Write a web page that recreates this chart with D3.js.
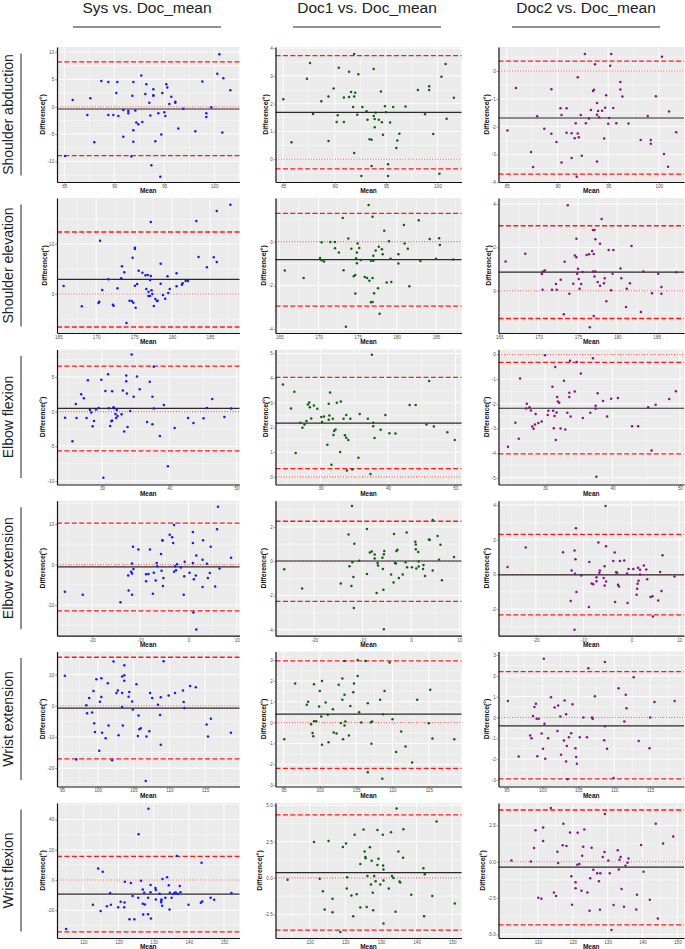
<!DOCTYPE html>
<html><head><meta charset="utf-8">
<script src="https://cdn.jsdelivr.net/npm/d3@7"></script>
<style>body{margin:0;background:#fff}svg{display:block}</style>
</head><body><svg id="chart" width="685" height="949"></svg>
<script>
const columns = ["Sys vs. Doc_mean","Doc1 vs. Doc_mean","Doc2 vs. Doc_mean"];
const rows = ["Shoulder abduction","Shoulder elevation","Elbow flexion","Elbow extension","Wrist extension","Wrist flexion"];

// points: [mean, difference]
const saSys = [[85.07,-9.0],[85.84,1.22],[87.3,-1.52],[87.6,1.52],[88.0,-6.5],[88.7,4.7],[89.4,-1.52],[89.4,4.5],[89.9,-1.52],[90.2,2.5],[90.3,4.5],[90.4,-1.7],[90.9,-5.5],[90.9,-0.6],[91.4,-0.8],[91.4,-1.2],[91.8,2.0],[91.9,-4.3],[91.9,4.5],[91.9,-6.4],[92.1,-0.7],[92.2,-2.9],[92.4,-3.2],[91.7,-9.1],[92.7,5.7],[92.8,-2.8],[93.1,2.3],[93.2,4.1],[93.5,0.7],[93.6,-1.6],[93.7,-10.7],[93.9,3.2],[93.9,2.0],[93.9,2.1],[94.1,-6.3],[94.4,-1.2],[94.6,-12.8],[94.7,-5.1],[94.8,2.5],[95.0,-1.0],[95.1,-1.7],[95.2,4.1],[95.3,3.5],[95.5,0.5],[95.7,1.8],[96.1,0.9],[96.1,0.7],[96.4,-4.0],[96.9,-0.4],[98.1,-4.5],[98.8,4.6],[99.2,-1.2],[99.2,-1.9],[99.7,-0.1],[100.3,6.0],[100.5,9.6],[100.8,-4.7],[100.9,5.2],[101.6,3.0]];
const saDoc1 = [[85.0,2.16],[85.8,0.61],[87.3,2.9],[87.6,3.46],[87.9,1.63],[88.7,2.09],[89.4,2.26],[89.4,0.66],[89.9,2.55],[90.2,1.34],[90.3,1.58],[90.4,3.29],[90.9,2.22],[90.9,1.34],[91.4,3.15],[91.4,2.24],[91.6,2.42],[91.8,1.88],[91.9,3.79],[91.9,2.26],[91.9,0.22],[92.0,2.39],[92.2,1.6],[92.3,3.06],[92.6,-0.6],[92.7,1.88],[93.1,1.73],[93.2,1.42],[93.4,0.72],[93.6,0.7],[93.6,-0.24],[93.8,3.25],[93.8,1.56],[93.9,1.15],[93.9,1.45],[94.0,1.67],[94.3,1.42],[94.5,2.44],[94.6,1.33],[94.7,0.88],[94.9,1.91],[95.0,1.69],[95.2,-0.18],[95.2,-0.6],[95.4,1.32],[95.7,1.88],[96.0,0.4],[96.1,0.67],[96.3,0.92],[96.9,1.9],[98.1,2.49],[98.8,1.62],[99.2,2.63],[99.2,2.49],[99.6,0.91],[100.2,-0.52],[100.4,2.97],[100.8,3.43],[100.9,1.46],[101.6,2.21]];
const saDoc2 = [[85.07,-2.14],[85.9,-0.61],[87.4,-2.91],[87.6,-3.45],[88.0,-1.63],[88.7,-2.08],[89.4,-0.66],[89.4,-2.26],[89.9,-2.55],[90.3,-1.34],[90.4,-1.58],[90.4,-3.29],[90.9,-1.34],[90.9,-2.22],[91.4,-3.13],[91.4,-2.24],[91.7,-2.42],[91.8,-1.88],[91.9,-3.8],[92.0,-2.25],[92.0,-0.23],[92.1,-2.38],[92.3,-1.58],[92.4,-3.05],[92.7,0.61],[92.8,-1.88],[93.1,-1.71],[93.3,-1.4],[93.5,-0.72],[93.6,-0.68],[93.7,0.24],[93.9,-3.25],[93.9,-1.57],[93.9,-1.15],[94.0,-1.44],[94.1,-1.66],[94.4,-1.43],[94.6,-2.43],[94.7,-1.32],[94.8,-0.87],[95.0,-1.9],[95.1,-1.69],[95.2,0.19],[95.3,0.61],[95.5,-1.33],[95.8,-1.88],[96.2,-0.4],[96.2,-0.67],[96.4,-0.92],[97.0,-1.89],[98.2,-2.48],[98.9,-1.62],[99.2,-2.62],[99.2,-2.48],[99.7,-0.91],[100.3,0.51],[100.5,-2.98],[100.9,-3.44],[101.0,-1.46],[101.7,-2.2]];

const seSys = [[165.7,1.6],[168.1,-2.47],[170.3,-1.8],[170.4,-1.53],[170.5,10.67],[170.8,0.8],[171.6,2.93],[172.2,-2.13],[172.3,-2.33],[172.8,1.13],[173.3,3.13],[173.4,5.53],[173.7,4.33],[174.0,-5.8],[174.4,-1.33],[174.7,-1.4],[174.8,7.27],[174.9,-1.73],[175.1,9.27],[175.1,9.0],[175.1,1.67],[175.2,-2.73],[175.4,2.0],[175.6,4.67],[176.1,4.27],[176.5,3.73],[176.6,1.0],[176.8,3.8],[176.9,0.47],[176.9,-0.4],[177.1,-0.4],[177.1,2.8],[177.2,14.4],[177.2,3.6],[177.3,0.73],[177.4,0.0],[177.6,-2.4],[177.8,-1.0],[178.0,-1.4],[178.1,-1.33],[178.5,2.07],[178.5,6.07],[178.8,-0.2],[179.1,-0.93],[179.4,3.53],[179.5,0.2],[179.7,1.0],[180.6,1.53],[180.6,4.13],[181.3,1.87],[181.4,2.13],[181.8,2.6],[182.1,2.6],[183.2,14.6],[183.5,7.4],[184.6,5.33],[185.5,7.33],[185.9,16.6],[185.9,6.4],[187.7,17.87]];
const seDoc1 = [[165.7,-1.32],[168.1,-1.66],[170.2,-0.75],[170.4,-0.03],[170.4,-0.85],[170.7,-0.91],[171.5,-0.02],[172.1,-0.3],[172.1,-0.02],[172.6,-0.5],[173.1,1.08],[173.2,-1.31],[173.5,-3.89],[173.8,0.14],[174.2,-0.32],[174.5,-1.58],[174.7,-1.52],[174.7,-2.37],[174.8,-0.76],[174.9,-0.5],[174.9,-0.99],[175.0,-0.09],[175.2,-0.29],[175.4,-0.84],[175.9,-1.61],[176.2,-1.66],[176.4,1.67],[176.5,-1.79],[176.7,-0.87],[176.7,-2.77],[176.9,1.14],[176.9,-2.75],[176.9,-1.66],[177.0,-0.65],[177.0,-0.87],[177.1,-2.36],[177.3,-0.4],[177.6,-2.13],[177.7,-0.23],[177.8,-3.29],[178.1,-0.35],[178.2,-0.58],[178.4,0.49],[178.7,-1.86],[179.0,0.02],[179.2,-0.78],[179.3,-1.84],[180.2,-0.58],[180.2,-1.0],[180.9,0.76],[181.0,-0.09],[181.4,-0.33],[181.6,-2.04],[182.8,0.97],[183.0,-0.88],[184.2,0.12],[185.0,-0.78],[185.4,0.15],[185.5,-0.15],[187.2,-0.82]];
const seDoc2 = [[165.8,1.35],[168.3,1.71],[170.4,0.77],[170.5,0.86],[170.5,0.05],[170.7,0.91],[170.8,0.94],[171.7,0.05],[172.2,0.31],[172.3,0.05],[172.8,0.51],[173.2,-1.08],[173.3,1.34],[173.9,-0.14],[173.7,3.95],[174.4,0.32],[174.6,1.63],[174.8,2.4],[174.8,1.55],[174.9,0.78],[175.0,1.02],[175.1,0.54],[175.2,0.09],[175.4,0.31],[175.6,0.86],[176.1,1.65],[176.4,1.68],[176.5,-1.69],[176.8,1.83],[176.9,0.89],[176.9,2.8],[177.0,-1.17],[177.0,1.69],[177.1,2.8],[177.1,0.66],[177.2,0.89],[177.2,2.38],[177.5,0.4],[177.8,2.17],[177.8,0.23],[178.0,3.31],[178.3,0.35],[178.4,0.58],[178.6,-0.49],[178.9,1.88],[179.2,0.02],[179.4,0.78],[179.5,1.88],[180.4,1.03],[180.5,0.58],[181.1,-0.75],[181.2,0.09],[181.6,0.35],[181.8,2.06],[183.0,-0.98],[183.3,0.89],[184.4,-0.12],[185.2,0.78],[185.6,0.17],[185.6,-0.14],[187.5,0.85]];

const efSys = [[24.5,-0.87],[25.6,-4.28],[26.1,1.1],[26.2,-0.91],[26.9,2.5],[27.3,1.92],[27.7,-0.91],[27.9,4.52],[28.2,0.24],[28.4,-0.14],[28.6,-2.12],[28.8,-1.35],[29.1,0.29],[29.5,0.53],[29.9,4.57],[30.2,-9.52],[30.5,2.98],[30.9,5.38],[31.0,0.48],[31.2,-2.07],[31.4,-1.39],[31.5,2.93],[31.5,-1.3],[31.7,0.63],[31.8,0.48],[32.0,-0.34],[32.1,-0.91],[32.2,0.24],[32.3,-0.63],[32.9,-0.38],[33.1,3.03],[33.3,-2.88],[33.6,4.38],[33.6,5.19],[33.7,2.6],[33.8,-2.21],[34.2,0.1],[34.4,8.22],[34.7,2.12],[35.2,5.05],[35.6,3.22],[36.7,-1.49],[37.1,4.28],[37.5,2.12],[37.5,-1.83],[37.7,6.44],[37.7,0.43],[38.6,-3.51],[39.2,0.96],[39.8,-7.88],[40.8,-2.36],[42.8,-0.91],[43.6,-1.63],[45.1,-0.96],[45.6,0.53],[46.4,1.83],[48.2,-0.77],[49.2,0.43]];
const efDoc1 = [[24.4,3.74],[25.6,2.77],[26.1,3.45],[26.3,0.97],[27.0,2.19],[27.3,1.99],[27.6,2.12],[27.9,2.26],[28.1,2.93],[28.3,3.01],[28.4,2.82],[28.6,2.36],[29.0,2.89],[29.5,2.76],[30.1,2.42],[30.2,2.22],[30.5,2.45],[31.0,1.3],[31.2,2.31],[31.2,2.96],[31.3,2.49],[31.4,3.42],[31.6,0.49],[31.8,2.35],[31.9,1.7],[32.0,1.86],[32.2,1.92],[32.4,3.0],[32.9,1.01],[33.0,3.05],[33.4,2.35],[33.6,1.69],[33.8,2.51],[33.8,1.58],[33.9,0.26],[34.1,1.49],[34.4,2.35],[34.7,0.3],[35.6,0.77],[35.8,2.55],[37.0,2.35],[37.4,0.12],[37.6,4.95],[37.8,2.05],[37.8,2.19],[38.0,1.57],[38.9,1.91],[39.6,2.51],[40.2,1.77],[41.1,1.76],[43.2,2.91],[44.1,2.91],[45.7,2.12],[46.1,3.88],[46.8,2.04],[48.8,1.81],[49.9,1.49]];
const efDoc2 = [[24.5,-3.74],[25.6,-2.77],[26.1,-3.42],[26.3,-0.97],[27.2,-2.19],[27.3,-2.0],[27.7,-2.14],[27.9,-2.27],[28.1,-2.92],[28.3,-3.01],[28.5,-2.84],[28.6,-2.41],[29.0,-2.78],[29.5,-2.72],[30.0,-0.03],[30.4,-2.45],[30.5,-2.28],[31.1,-1.31],[31.2,-2.28],[31.3,-2.99],[31.4,-2.49],[31.5,-0.51],[31.6,-3.47],[31.7,-2.35],[31.8,-1.72],[31.9,-1.91],[32.1,-1.96],[32.3,-3.0],[32.8,-1.07],[33.0,-3.04],[33.3,-2.36],[33.6,-1.72],[33.6,-1.55],[33.7,-0.26],[33.8,-2.51],[34.4,-1.5],[34.7,-0.31],[35.3,-0.77],[35.6,-2.58],[36.7,-2.36],[37.1,-0.15],[37.5,-2.08],[37.5,-2.2],[37.6,-4.96],[37.8,-1.57],[38.6,-1.89],[39.2,-2.51],[39.8,-1.8],[40.8,-1.77],[42.9,-2.91],[43.8,-2.91],[45.3,-2.14],[45.8,-3.89],[46.4,-2.04],[48.4,-1.81],[49.4,-1.49]];

const eeSys = [[-25.6,-6.7],[-21.9,-7.4],[-14.1,-9.3],[-12.4,-6.4],[-12.5,-2.7],[-11.9,-1.8],[-11.7,-7.4],[-11.7,-2.2],[-11.7,0.25],[-11.5,4.4],[-11.4,-1.1],[-10.4,3.7],[-8.8,-2.4],[-8.8,-4.1],[-8.3,-2.3],[-8.0,3.7],[-7.4,-7.2],[-7.2,-2.0],[-6.8,-3.9],[-6.6,0.4],[-6.5,-0.4],[-5.7,2.6],[-5.6,-1.5],[-5.4,6.0],[-5.4,5.9],[-5.3,-5.3],[-5.2,-3.3],[-3.9,7.3],[-3.4,6.7],[-3.2,5.3],[-3.0,-1.8],[-3.0,9.75],[-2.8,-0.4],[-2.6,-1.4],[-2.4,0.1],[-1.6,-0.7],[-1.0,-7.4],[-0.9,-2.9],[-0.8,0.7],[0.2,-2.0],[0.9,8.0],[0.9,5.3],[0.9,0.4],[1.0,-11.8],[1.1,-3.6],[1.5,-2.7],[1.6,2.2],[1.6,-16.0],[2.9,-5.5],[2.9,1.2],[3.0,6.0],[3.8,0.17],[4.0,-3.3],[4.4,-2.1],[4.6,4.4],[5.5,-5.4],[5.9,8.7],[6.1,14.2],[6.4,-1.0],[8.8,1.7]];
const eeDoc1 = [[-26.2,-0.47],[-22.5,-1.59],[-14.5,-1.31],[-12.9,1.55],[-12.7,-0.29],[-12.3,-1.45],[-12.2,3.22],[-12.1,-0.06],[-11.9,-0.92],[-11.8,-2.73],[-11.7,1.02],[-10.7,0.02],[-9.1,1.88],[-9.1,-0.75],[-8.5,0.51],[-8.1,0.57],[-7.5,0.16],[-7.5,0.39],[-7.1,-1.86],[-6.9,-0.1],[-6.8,-0.25],[-5.9,0.2],[-5.8,-0.45],[-5.7,-1.67],[-5.6,0.41],[-5.5,0.59],[-5.6,-3.98],[-4.1,-0.78],[-3.6,-1.25],[-3.5,1.59],[-3.3,-0.1],[-3.1,-0.14],[-3.0,0.59],[-2.8,0.67],[-2.5,-0.98],[-1.7,-0.78],[-1.1,-0.06],[-0.9,1.67],[-0.8,-0.35],[0.2,-0.35],[0.9,1.14],[1.0,0.98],[1.0,0.69],[1.1,-0.43],[1.5,0.53],[1.6,-0.02],[1.6,-0.31],[2.5,-0.45],[2.6,-0.22],[2.9,-0.86],[3.7,1.27],[3.9,1.24],[4.5,2.41],[4.5,-0.55],[5.5,1.47],[5.8,0.08],[6.1,0.96],[6.4,-1.12],[8.9,0.24]];
const eeDoc2 = [[-25.9,0.43],[-22.1,1.55],[-14.3,1.28],[-12.7,-1.53],[-12.5,0.23],[-11.9,-3.18],[-11.9,1.38],[-11.8,0.04],[-11.7,0.87],[-11.6,2.66],[-11.5,-1.01],[-10.5,-0.06],[-8.9,-1.88],[-8.8,0.72],[-8.3,-0.52],[-8.0,-0.56],[-7.3,-0.16],[-7.3,-0.39],[-6.9,1.84],[-6.7,0.1],[-6.6,0.23],[-5.8,-0.21],[-5.6,0.47],[-5.6,-0.64],[-5.4,3.94],[-5.3,1.63],[-5.3,-0.41],[-3.8,0.78],[-3.5,1.26],[-3.4,-1.59],[-3.2,0.12],[-3.0,0.1],[-2.8,-0.6],[-2.6,-0.7],[-2.4,0.78],[-1.5,0.8],[-0.9,0.06],[-0.8,-1.65],[-0.6,0.31],[0.4,0.31],[1.1,-1.17],[1.2,-0.83],[1.3,-0.54],[1.4,0.39],[1.5,-0.37],[1.8,0.27],[1.8,0.0],[2.6,0.52],[3.1,0.29],[3.3,-0.27],[4.0,-1.3],[4.4,-1.26],[4.5,-2.43],[5.6,-1.5],[6.0,0.14],[6.3,-0.95],[6.5,1.11],[9.0,-0.12]];

const weSys = [[95.4,9.6],[97.0,-17.2],[98.4,0.2],[98.5,-2.4],[98.8,2.5],[99.2,-2.2],[99.4,4.7],[99.5,-5.6],[99.6,-8.4],[99.8,8.5],[100.2,-14.4],[100.3,1.3],[100.5,8.8],[100.5,2.8],[100.6,-8.7],[101.1,-10.4],[101.4,7.2],[101.5,-6.3],[102.0,-17.5],[102.2,14.2],[102.6,4.1],[102.8,4.9],[102.9,-9.5],[103.4,9.4],[103.4,4.1],[103.4,-0.4],[103.5,-6.3],[103.7,13.0],[103.7,9.8],[103.7,8.0],[104.3,2.9],[104.4,4.4],[104.8,1.4],[104.9,-1.2],[105.4,6.9],[105.6,-9.7],[105.7,-3.1],[105.8,-7.5],[106.0,-7.2],[106.7,-24.1],[106.8,-9.9],[107.2,-8.2],[107.3,4.1],[107.6,2.5],[108.4,0.3],[108.7,-3.0],[108.8,-12.5],[108.8,2.7],[109.2,14.3],[109.9,3.3],[110.8,4.1],[111.9,4.9],[112.0,1.2],[112.1,-0.75],[112.9,6.3],[113.7,5.9],[115.2,-6.0],[115.4,-9.9],[115.8,-4.2],[118.6,-8.7]];
const weDoc1 = [[95.1,-0.8],[96.6,1.87],[98.2,0.85],[98.4,1.0],[98.8,-0.08],[99.0,-0.5],[99.1,-0.66],[99.2,0.06],[99.2,1.84],[99.5,0.06],[99.9,0.77],[100.0,1.52],[100.2,0.29],[100.3,2.0],[100.3,-1.07],[100.8,0.96],[101.1,0.37],[101.2,-0.94],[101.8,0.64],[101.9,-0.48],[102.3,-0.53],[102.6,1.82],[102.9,-0.02],[103.1,2.11],[103.1,1.1],[103.2,-0.8],[103.4,1.34],[103.4,-0.14],[103.4,2.96],[103.5,0.05],[104.0,-0.62],[104.2,0.8],[104.6,1.46],[104.7,1.87],[105.2,3.0],[105.2,2.24],[105.4,0.5],[105.7,0.0],[106.3,2.96],[106.6,0.93],[106.6,-2.38],[107.0,0.0],[107.1,-1.02],[107.2,0.05],[108.3,1.1],[108.6,-2.7],[108.7,0.4],[108.9,1.52],[109.6,2.88],[110.0,0.16],[110.5,-1.41],[111.2,-0.43],[111.8,-1.15],[112.7,-1.92],[113.4,1.1],[115.0,-0.03],[115.2,1.57],[115.5,-0.77],[118.5,-0.8]];
const weDoc2 = [[95.2,0.8],[96.7,-1.87],[98.3,-0.86],[98.5,-0.99],[98.7,0.08],[98.9,0.51],[99.1,0.66],[99.2,-0.06],[99.3,-1.86],[99.5,-0.06],[99.9,-0.77],[100.1,-1.5],[100.2,2.82],[100.3,-0.3],[100.4,-1.98],[100.8,-0.99],[101.2,0.98],[101.7,0.48],[102.1,-0.64],[102.2,0.58],[102.5,0.05],[102.6,-1.78],[103.0,-1.1],[103.1,0.82],[103.3,0.16],[103.3,-2.11],[103.4,-1.36],[103.5,-2.96],[103.7,-0.94],[104.0,-0.75],[104.2,0.64],[104.6,-1.47],[104.7,-1.89],[104.8,-2.22],[105.2,-0.94],[105.7,0.0],[106.2,-0.94],[106.4,2.37],[106.9,0.0],[107.0,-0.06],[107.3,1.02],[108.6,-1.09],[108.7,-0.42],[108.7,2.67],[109.0,-1.5],[109.9,-2.9],[110.6,1.41],[111.4,-0.19],[111.6,1.09],[111.7,0.45],[112.7,1.94],[113.4,-1.12],[114.9,-1.47],[115.0,0.0],[115.6,0.75],[118.4,0.8]];

const wfSys = [[105.1,-32.3],[112.7,-16.4],[114.2,7.7],[114.9,-20.4],[115.5,5.5],[116.7,-17.3],[117.6,-8.6],[117.8,-16.4],[119.9,-17.9],[120.6,-14.4],[121.6,-17.9],[121.7,-14.8],[121.8,-1.1],[123.1,-25.9],[123.5,-2.0],[124.0,-10.6],[124.5,-25.9],[125.6,-11.7],[125.7,30.3],[126.4,-0.4],[126.9,-6.2],[126.9,-15.7],[127.3,-8.4],[127.5,-16.2],[128.4,-11.7],[128.4,-22.6],[128.5,47.1],[129.1,-3.3],[129.1,-8.0],[129.2,-25.4],[127.0,-22.8],[130.5,-5.3],[130.6,-6.6],[130.6,-12.8],[131.7,-9.1],[132.1,-14.6],[132.2,-13.5],[132.2,-12.8],[132.4,-17.0],[132.5,0.7],[133.3,-11.7],[133.8,1.8],[134.3,-3.5],[134.5,-19.5],[134.6,-8.4],[135.1,-11.7],[135.6,-9.3],[136.0,-8.4],[136.2,-8.6],[136.3,-8.4],[136.6,15.9],[136.9,-9.3],[137.4,-4.0],[137.6,-8.0],[139.9,-16.4],[143.4,-15.0],[143.8,-14.2],[143.6,11.5],[146.2,-11.7],[147.2,-13.1],[152.1,-8.6]];
const wfDoc1 = [[103.8,-0.12],[111.2,2.47],[112.8,-0.05],[113.7,-0.92],[114.2,-2.17],[115.3,2.54],[116.4,-1.43],[116.4,-2.36],[119.3,2.12],[118.6,-3.72],[120.2,2.36],[120.4,-0.72],[120.5,0.05],[121.7,-1.2],[122.2,-2.63],[122.6,2.96],[123.2,-1.13],[124.2,-2.03],[124.2,0.95],[125.1,3.33],[125.4,1.82],[125.6,1.43],[125.7,1.36],[126.0,-2.0],[126.2,0.14],[126.9,2.1],[127.2,-0.46],[127.4,1.18],[127.7,-1.02],[127.8,-2.22],[128.1,0.14],[128.5,-0.23],[129.0,3.3],[129.0,0.88],[129.3,1.32],[129.8,-0.46],[130.5,2.96],[130.6,0.85],[130.7,0.58],[130.7,-0.18],[130.7,-3.14],[132.2,-0.72],[132.8,3.14],[133.1,0.14],[133.5,0.0],[134.1,-2.33],[134.4,4.78],[134.9,1.82],[135.2,-0.25],[135.4,-0.32],[136.2,1.39],[136.3,3.35],[138.5,-1.15],[141.9,0.67],[142.1,-2.63],[142.3,0.25],[144.4,-1.25],[145.6,3.88],[150.7,-1.76]];
const wfDoc2 = [[102.4,0.09],[108.0,0.02],[108.9,0.95],[109.3,2.17],[110.1,-2.47],[111.0,-2.54],[111.5,2.36],[111.5,1.43],[113.7,3.7],[114.6,-2.12],[115.2,-2.36],[115.6,0.69],[115.8,-0.09],[117.1,1.13],[117.3,2.61],[118.2,1.09],[119.2,2.01],[119.6,-0.99],[119.8,-2.96],[120.8,-1.41],[120.8,-1.82],[121.3,-0.21],[121.4,1.99],[121.9,-0.16],[122.5,-1.99],[122.7,0.42],[123.0,1.04],[123.3,2.22],[124.2,-2.12],[124.8,-3.37],[125.0,-1.13],[125.4,0.97],[125.9,-0.55],[127.0,-0.79],[127.5,-1.34],[127.8,-3.3],[127.9,-0.79],[128.6,0.32],[129.1,0.67],[129.2,3.28],[130.2,0.09],[130.6,-0.79],[131.1,-4.69],[131.7,-2.98],[132.9,0.79],[133.2,-0.53],[133.4,0.14],[133.7,0.32],[134.0,-1.87],[134.7,-3.09],[135.1,-0.28],[135.7,-0.07],[136.0,0.23],[138.2,-3.28],[138.4,-2.26],[139.6,1.15],[140.3,-0.69],[142.1,-2.61],[143.8,2.61],[144.4,-3.9],[145.9,1.25],[148.8,1.73]];

// Bland-Altman lines [row][column]
const meanDiff = [[-0.42,1.69,-1.69],[2.93,-0.82,0.86],[0.45,2.18,-2.18],[-0.58,0.01,-0.02],[-0.75,0.4,-0.4],[-9.3,0.37,-0.37]];
const upperLoA = [[8.2,3.73,0.35],[12.4,1.29,3.0],[6.55,4.03,-0.32],[10.17,2.33,2.31],[15.55,2.96,2.2],[15.6,4.33,3.56]];
const lowerLoA = [[-8.96,-0.35,-3.71],[-6.6,-2.94,-1.28],[-5.65,0.33,-4.03],[-11.4,-2.35,-2.33],[-17.05,-2.2,-2.94],[-34.2,-3.59,-4.34]];

// axis ranges and ticks
const xDomains = [[[84.27,102.52],[84.24,102.35],[84.19,102.47]],[[164.83,188.9],[164.51,188.26],[164.9,188.47]],[[23.3,50.45],[23.3,50.9],[23.1,50.6]],[[-27.24,10.55],[-28,10.45],[-27.8,11.0]],[[94.3,119.8],[93.9,119.5],[93.9,119.7]],[[102.5,154.4],[100.4,152.6],[98.7,151.9]]];
const yDomains = [[[-13.77,10.91],[-0.82,4.04],[-3.99,0.86]],[[-7.8,19.2],[-4.17,1.99],[-1.95,4.28]],[[-10.5,8.94],[-0.31,5.16],[-5.27,0.2]],[[-17.5,15.7],[-4.35,3.53],[-3.53,4.25]],[[-25.9,17.4],[-3.07,3.41],[-3.31,3.17]],[[-38.3,50.9],[-4.13,5.15],[-5.24,4.04]]];
const xTicks = [[85,90,95,100],[165,170,175,180,185],[30,40,50],[-20,-10,0,10],[95,100,105,110,115],[110,120,130,140,150]];
const yTicks = [[[-10,-5,0,5,10],[0,1,2,3,4],[-4,-3,-2,-1,0]],[[0,10],[-4,-2,0],[0,2,4]],[[-10,-5,0,5],[0,1,2,3,4,5],[-5,-4,-3,-2,-1,0]],[[-10,0,10],[-4,-2,0,2],[-2,0,2,4]],[[-20,-10,0,10],[-3,-2,-1,0,1,2,3],[-3,-2,-1,0,1,2,3]],[[-20,0,20,40],[-2.5,0,2.5,5],[-5,-2.5,0,2.5]]];
const yDecimals = [[0,0,0],[0,0,0],[0,0,0],[0,0,0],[0,0,0],[0,1,1]];

const panelData = [[saSys,saDoc1,saDoc2],[seSys,seDoc1,seDoc2],[efSys,efDoc1,efDoc2],[eeSys,eeDoc1,eeDoc2],[weSys,weDoc1,weDoc2],[wfSys,wfDoc1,wfDoc2]];

// ---------- drawing ----------
const FONT = "'Liberation Sans', Arial, Helvetica, sans-serif";
const svg = d3.select("#chart").attr("font-family", FONT);
const colX = [[57,239.5],[275.5,461.5],[498.5,684]];
const rowTop = [47,198,349.5,500.7,651.5,803];
const PH = 135;
const titleCX = [147,367,586];
const pointColor = ["#1a1aee","#0d630d","#8a128a"];

columns.forEach((t,i)=>{
  svg.append("text").attr("x",titleCX[i]).attr("y",12.5).attr("text-anchor","middle")
    .attr("font-size",15.5).attr("fill","#222").text(t);
  svg.append("line").attr("x1",titleCX[i]-74).attr("x2",titleCX[i]+74).attr("y1",27).attr("y2",27)
    .attr("stroke","#222").attr("stroke-width",1);
});
rows.forEach((t,r)=>{
  const cy = rowTop[r]+PH/2;
  svg.append("text").attr("transform",`translate(12.5,${cy}) rotate(-90)`).attr("text-anchor","middle")
    .attr("font-size",14).attr("fill","#222").text(t);
  svg.append("line").attr("x1",21).attr("x2",21).attr("y1",cy-61).attr("y2",cy+61)
    .attr("stroke","#222").attr("stroke-width",1);
});

function minorBreaks(ticks, dom){
  const s = ticks[1]-ticks[0];
  let v = ticks[0]-s/2;
  while(v-s >= dom[0]) v -= s;
  const out=[];
  for(; v<=dom[1]; v+=s){ if(v>=dom[0]) out.push(v); }
  return out;
}

for(let r=0;r<6;r++){
  for(let c=0;c<3;c++){
    const [x0,x1] = colX[c];
    const top = rowTop[r], bot = top+PH;
    const x = d3.scaleLinear().domain(xDomains[r][c]).range([x0,x1]);
    const y = d3.scaleLinear().domain(yDomains[r][c]).range([bot,top]);
    const g = svg.append("g");
    g.append("rect").attr("x",x0).attr("y",top).attr("width",x1-x0).attr("height",PH).attr("fill","#EBEBEB");
    const xt = xTicks[r], yt = yTicks[r][c];
    // minor grid
    g.selectAll(".mx").data(minorBreaks(xt,xDomains[r][c])).join("line")
      .attr("x1",d=>x(d)).attr("x2",d=>x(d)).attr("y1",top).attr("y2",bot)
      .attr("stroke","#fff").attr("stroke-width",0.45);
    g.selectAll(".my").data(minorBreaks(yt,yDomains[r][c])).join("line")
      .attr("y1",d=>y(d)).attr("y2",d=>y(d)).attr("x1",x0).attr("x2",x1)
      .attr("stroke","#fff").attr("stroke-width",0.45);
    // major grid
    g.selectAll(".gx").data(xt).join("line")
      .attr("x1",d=>x(d)).attr("x2",d=>x(d)).attr("y1",top).attr("y2",bot)
      .attr("stroke","#fff").attr("stroke-width",0.9);
    g.selectAll(".gy").data(yt).join("line")
      .attr("y1",d=>y(d)).attr("y2",d=>y(d)).attr("x1",x0).attr("x2",x1)
      .attr("stroke","#fff").attr("stroke-width",0.9);
    // reference lines
    const hl = (v,col,w,dash,op)=>g.append("line").attr("x1",x0).attr("x2",x1)
      .attr("y1",y(v)).attr("y2",y(v)).attr("stroke",col).attr("stroke-width",w)
      .attr("stroke-dasharray",dash).attr("opacity",op);
    hl(0,"#ff4d4d",1.1,"1.1,1.6",0.9);
    hl(upperLoA[r][c],"#ff1a1a",1.3,"5,2.4",1);
    hl(lowerLoA[r][c],"#ff1a1a",1.3,"5,2.4",1);
    hl(meanDiff[r][c],"#2a2a2a",1.2,null,1);
    // points
    g.selectAll("circle").data(panelData[r][c]).join("circle")
      .attr("cx",d=>x(d[0])).attr("cy",d=>y(d[1])).attr("r",1.25)
      .attr("fill",pointColor[c]);
    // axes
    const fmt = v => yDecimals[r][c] ? v.toFixed(yDecimals[r][c]).replace("\u2212","-") : String(v);
    const ya = g.append("g").attr("transform",`translate(${x0},0)`)
      .call(d3.axisLeft(y).tickValues(yt).tickFormat(fmt).tickSize(1.8).tickSizeOuter(0).tickPadding(1));
    const xa = g.append("g").attr("transform",`translate(0,${bot})`)
      .call(d3.axisBottom(x).tickValues(xt).tickFormat(v=>String(v)).tickSize(1.8).tickSizeOuter(0).tickPadding(0.8));
    [ya,xa].forEach(a=>{
      a.select(".domain").attr("stroke","#111").attr("stroke-width",1.2);
      a.selectAll(".tick line").attr("stroke","#333").attr("stroke-width",0.5);
      a.selectAll(".tick text").attr("font-size",4.6).attr("fill","#4D4D4D").attr("font-family",FONT);
    });
    let maxW = 0;
    ya.selectAll(".tick text").each(function(){ maxW = Math.max(maxW,this.getComputedTextLength()); });
    g.append("text").attr("transform",`translate(${x0-1.8-1-maxW-2.5},${(top+bot)/2}) rotate(-90)`)
      .attr("text-anchor","middle").attr("font-size",6.8).attr("font-weight","bold").attr("fill","#111")
      .text("Difference(°)");
    g.append("text").attr("x",(x0+x1)/2).attr("y",bot+11.2).attr("text-anchor","middle")
      .attr("font-size",6.5).attr("font-weight","bold").attr("fill","#111").text("Mean");
  }
}
</script></body></html>
